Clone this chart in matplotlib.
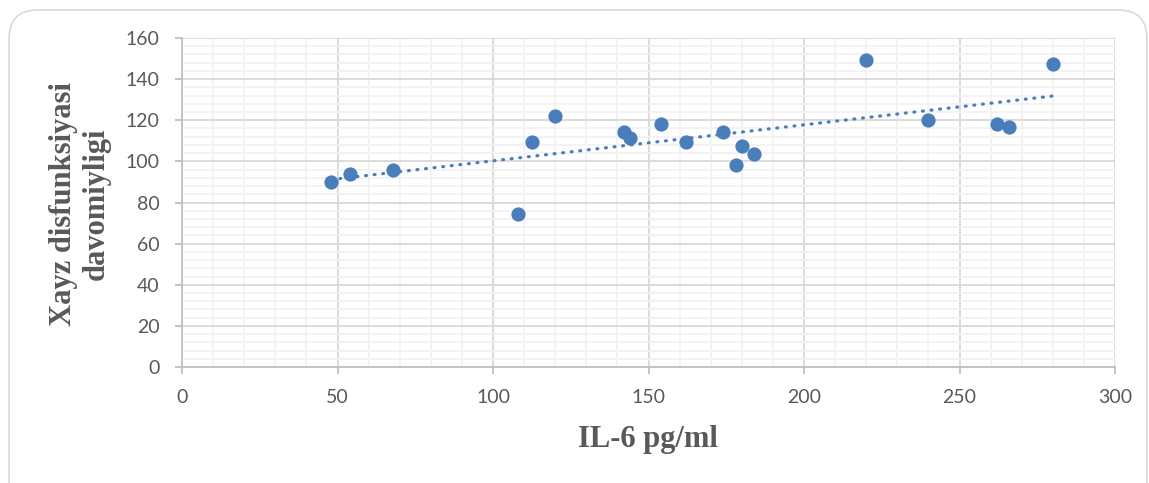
import numpy as np
import matplotlib
matplotlib.use("Agg")
import matplotlib.pyplot as plt
from matplotlib.patches import FancyBboxPatch
from matplotlib.ticker import MultipleLocator

# Data
il6 = [48, 54, 68, 108, 112.6, 120, 142, 144, 154, 162, 174, 178, 180, 184, 220, 240, 262, 266, 280]
duration = [90, 94, 96, 74.5, 109.5, 122, 114.5, 111.5, 118, 109.5, 114.5, 98, 107.5, 103.5, 149.5, 120, 118, 116.5, 147.5]

x_label = "IL-6 pg/ml"
y_label = "Xayz disfunksiyasi\ndavomiyligi"

W, H = 1149, 483
fig = plt.figure(figsize=(W / 100, H / 100), dpi=100)

# rounded chart border (bottom part runs past the picture edge)
border = FancyBboxPatch((9 / W, -0.2), (1147 - 9) / W, (H - 10) / H + 0.2,
                        boxstyle="round,pad=0,rounding_size=0.025",
                        transform=fig.transFigure, fill=False,
                        edgecolor="#d9d9d9", linewidth=1.2, mutation_aspect=W / H)
fig.patches.append(border)

ax = fig.add_axes([182 / W, 1 - 367 / H, (1115 - 182) / W, (367 - 38) / H])
ax.set_xlim(0, 300)
ax.set_ylim(0, 160)

ax.xaxis.set_major_locator(MultipleLocator(50))
ax.xaxis.set_minor_locator(MultipleLocator(10))
ax.yaxis.set_major_locator(MultipleLocator(20))
ax.yaxis.set_minor_locator(MultipleLocator(4))

ax.grid(which="minor", color="#f2f2f2", linewidth=1.3, zorder=0)
ax.grid(which="major", color="#d9d9d9", linewidth=1.3, zorder=0.5)
ax.set_axisbelow(True)

for s in ["top", "right"]:
    ax.spines[s].set_visible(False)
for s in ["left", "bottom"]:
    ax.spines[s].set_color("#bfbfbf")
    ax.spines[s].set_linewidth(1.3)

ax.tick_params(which="major", direction="out", length=5, width=1.3, color="#bfbfbf",
               labelsize=14, labelcolor="#595959", pad=11)
ax.tick_params(which="minor", length=0)
for lab in ax.get_xticklabels() + ax.get_yticklabels():
    lab.set_family("Lato")

blue = "#4a7ebb"
ax.scatter(il6, duration, s=105, color=blue, zorder=3, linewidths=0)

# linear trendline
xa = np.array(il6, dtype=float)
ya = np.array(duration, dtype=float)
k, b = np.polyfit(xa, ya, 1)
xt = np.array([xa.min(), xa.max()])
ax.plot(xt, k * xt + b, color=blue, linewidth=2.3, dashes=(0.3, 2.4),
        dash_capstyle="round", zorder=2.5)

fig.text(648 / W, 1 - 440 / H, x_label, ha="center", va="center",
         family="Liberation Serif", fontweight="bold", fontsize=22, color="#595959")
fig.text(80 / W, 1 - 204 / H, y_label, ha="center", va="center", rotation=90,
         family="Liberation Serif", fontweight="bold", fontsize=22, color="#595959",
         linespacing=1.2, multialignment="center")

fig.savefig("out.png", dpi=100)
